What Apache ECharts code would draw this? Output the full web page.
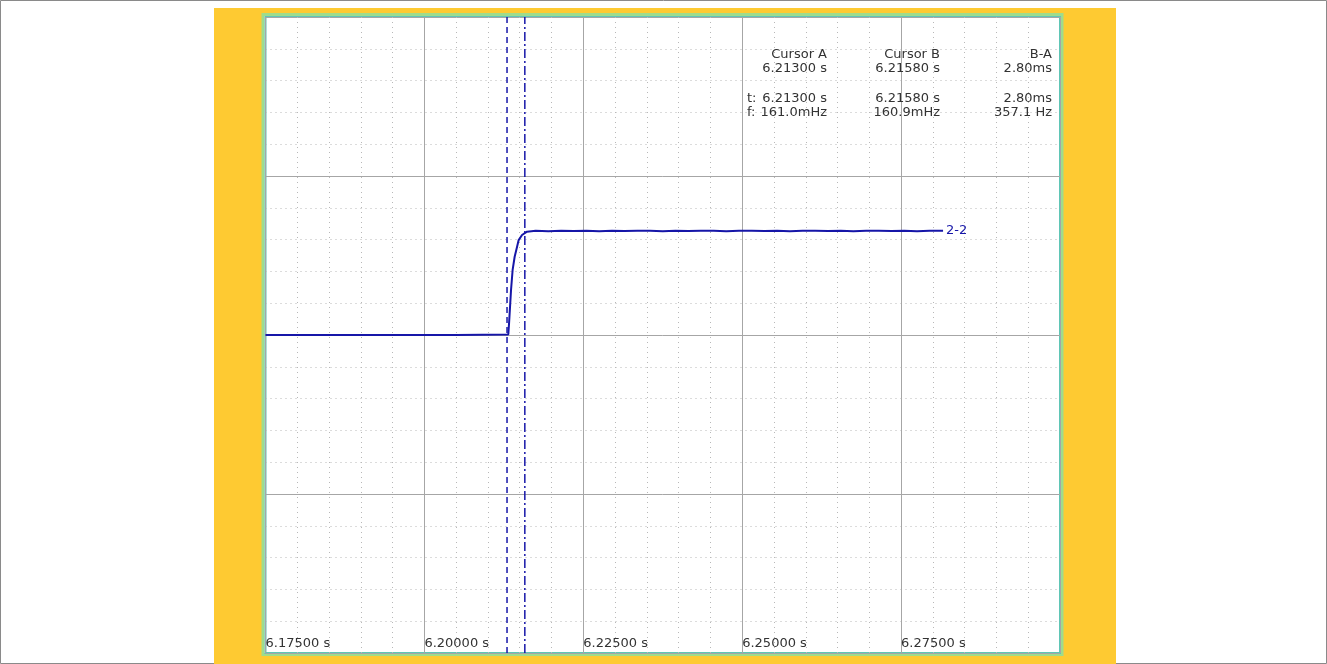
<!DOCTYPE html>
<html>
<head>
<meta charset="utf-8">
<script src="https://cdn.jsdelivr.net/npm/echarts@6/dist/echarts.min.js"></script>
<style>
html,body{margin:0;padding:0;background:#fff;}
#c{width:1327px;height:664px;}
</style>
</head>
<body>
<div id="c"></div>
<script>
// ---- data ----
const timeS = [6.1750, 6.1900, 6.2050, 6.2132, 6.21332, 6.21363, 6.21388, 6.21420, 6.21458, 6.21483, 6.21536, 6.21615,
  6.2175, 6.2195, 6.2215, 6.2235, 6.2255, 6.2275, 6.2295, 6.2315, 6.2335, 6.2355, 6.2375, 6.2395, 6.2415, 6.2435,
  6.2455, 6.2475, 6.2495, 6.2515, 6.2535, 6.2555, 6.2575, 6.2595, 6.2615, 6.2635, 6.2655, 6.2675, 6.2695, 6.2715,
  6.2735, 6.2755, 6.2775, 6.2795, 6.2816];
const signal = [0, 0, 0, 0.003, 0.075, 0.283, 0.409, 0.492, 0.555, 0.597, 0.629, 0.650,
  0.655, 0.653, 0.656, 0.654, 0.655, 0.653, 0.656, 0.654, 0.655, 0.656, 0.653, 0.655, 0.654, 0.656,
  0.655, 0.653, 0.655, 0.656, 0.654, 0.655, 0.653, 0.656, 0.655, 0.654, 0.656, 0.653, 0.655, 0.656,
  0.654, 0.655, 0.653, 0.655, 0.655];
const seriesName = '2-2';
const cursorA = 6.21300;
const cursorB = 6.21580;
const yRange = [-2, 2];
const xTicks = [6.175, 6.200, 6.225, 6.250, 6.275, 6.300];
const tableHeader = ['Cursor A', 'Cursor B', 'B-A'];
const tableRow1 = ['6.21300 s', '6.21580 s', '2.80ms'];
const rowLabels = ['t:', 'f:'];
const tableT = ['6.21300 s', '6.21580 s', '2.80ms'];
const tableF = ['161.0mHz', '160.9mHz', '357.1 Hz'];

const chart = echarts.init(document.getElementById('c'), null, {renderer: 'canvas'});
const txtFont = 'DejaVu Sans';
const txtColor = '#333';
const colX = [827, 940, 1052];
const rowY = [54.5, 69, 99, 113];
const graphics = [];
graphics.push({type:'rect', z:-10, shape:{x:0.5,y:0.5,width:1326,height:663}, style:{fill:'#fff', stroke:'#8a8a8a', lineWidth:1}, silent:true});
graphics.push({type:'rect', z:-9, shape:{x:214,y:8,width:902,height:656}, style:{fill:'#FECA32'}, silent:true});
graphics.push({type:'rect', z:-8, shape:{x:263,y:14.5,width:799,height:640}, style:{fill:'#fff', stroke:'#9fdc8c', lineWidth:3}, silent:true});
function addText(str, x, y, align){
  graphics.push({type:'text', z:100, x:x, y:y, style:{text:str, fill:txtColor, font:'13px "' + txtFont + '"', align:align, verticalAlign:'middle'}, silent:true});
}
tableHeader.forEach((s,i)=>addText(s, colX[i], rowY[0], 'right'));
tableRow1.forEach((s,i)=>addText(s, colX[i], rowY[1], 'right'));
addText(rowLabels[0], 747, rowY[2], 'left');
addText(rowLabels[1], 747, rowY[3], 'left');
tableT.forEach((s,i)=>addText(s, colX[i], rowY[2], 'right'));
tableF.forEach((s,i)=>addText(s, colX[i], rowY[3], 'right'));

const lineColor = '#1616a8';
function cursorSeries(t, dash){
  return {type:'line', showSymbol:false, symbol:'none', silent:true, z:3,
    data: [[t, yRange[0]], [t, yRange[1]]],
    lineStyle: {color: lineColor, width: 1.5, type: dash}};
}
chart.setOption({
  animation: false,
  backgroundColor: 'transparent',
  graphic: graphics,
  grid: {left: 265.5, top: 17, width: 794.5, height: 636, show: true, borderColor: '#5fc6b6', borderWidth: 2, backgroundColor: '#fff'},
  xAxis: {
    type: 'value', min: xTicks[0], max: xTicks[xTicks.length-1], interval: 0.025,
    axisLine: {show: false}, axisTick: {show: false},
    axisLabel: {inside: true, margin: 3, align: 'left', showMaxLabel: false, color: txtColor, fontSize: 13, fontFamily: txtFont,
      formatter: v => v.toFixed(5) + ' s'},
    splitLine: {show: true, lineStyle: {color: '#a6a6a6', width: 1}},
    minorTick: {show: false, splitNumber: 5},
    minorSplitLine: {show: true, lineStyle: {color: '#b8b8b8', width: 1, type: [1, 4]}}
  },
  yAxis: {
    type: 'value', min: yRange[0], max: yRange[1], interval: 1,
    axisLine: {show: false}, axisTick: {show: false}, axisLabel: {show: false},
    splitLine: {show: true, lineStyle: {color: '#a6a6a6', width: 1}},
    minorTick: {show: false, splitNumber: 5},
    minorSplitLine: {show: true, lineStyle: {color: '#b8b8b8', width: 1, type: [1, 4]}}
  },
  series: [
    cursorSeries(cursorA, [6, 4]),
    cursorSeries(cursorB, [9, 3, 2, 3]),
    {
    type: 'line', name: seriesName, showSymbol: false, symbol: 'none', z: 4,
    data: timeS.map((t,i)=>[t, signal[i]]),
    lineStyle: {color: lineColor, width: 2},
    itemStyle: {color: lineColor},
    endLabel: {show: true, formatter: seriesName, color: lineColor, fontSize: 13, fontFamily: txtFont, distance: 3}
  }]
});
</script>
</body>
</html>
